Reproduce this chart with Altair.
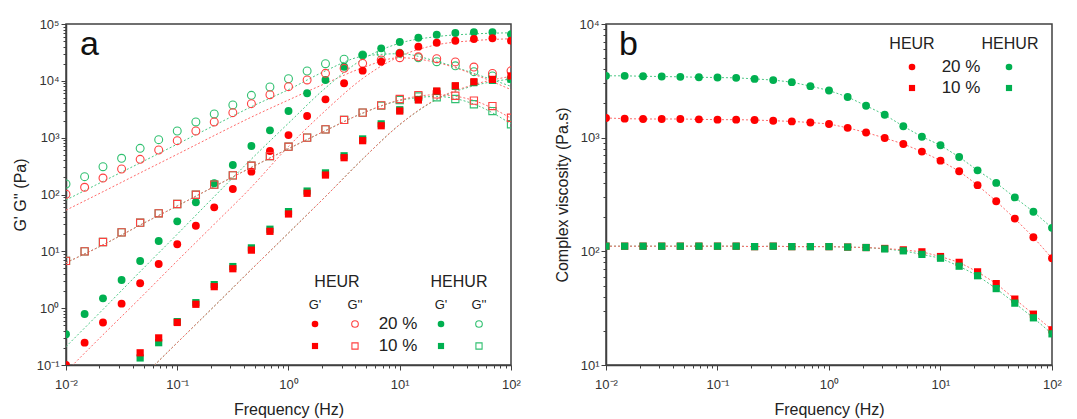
import altair as alt
import pandas as pd

# ---------------- data ----------------
freq = [0.01, 0.0147, 0.0215, 0.0316, 0.0464, 0.0681, 0.1, 0.147, 0.215, 0.316, 0.464, 0.681,
        1.0, 1.47, 2.15, 3.16, 4.64, 6.81, 10.0, 14.7, 21.5, 31.6, 46.4, 68.1, 100.0]

# panel a : moduli (Pa)
heur_g1_20 = [0.1, 0.247, 0.56, 1.2, 2.74, 5.98, 13.3, 28.2, 59.5, 125, 252, 582, 1110, 2400, 4730,
              9060, 15100, 21700, 30500, 39900, 46900, 50800, 54400, 56000, 50800]
hehur_g1_20 = [0.347, 0.79, 1.49, 3.13, 6.76, 15.2, 33.7, 73, 158, 330, 713, 1346, 2940, 6040, 10350,
               17700, 28500, 37300, 48200, 57400, 64800, 69500, 71500, 71500, 65900]
heur_g2_20 = [101, 134, 195, 281, 416, 607, 885, 1310, 1890, 2750, 3960, 5700, 7890, 10350, 13560,
              16600, 20300, 23300, 25500, 26500, 24500, 21500, 17500, 13500, 15000]
hehur_g2_20 = [153, 206, 308, 434, 650, 921, 1310, 1890, 2610, 3760, 5560, 7790, 10900, 14900, 20000,
               24000, 28500, 30500, 30500, 25500, 21700, 18400, 14500, 12200, 10800]
heur_g1_10 = [None, None, None, None, 0.164, 0.30, 0.56, 1.17, 2.39, 4.94, 10.5, 22.5, 45.4, 105, 220,
              444, 885, 1620, 2940, 4600, 6620, 8200, 9650, 10600, 12200]
hehur_g1_10 = [None, None, None, None, 0.133, 0.247, 0.58, 1.25, 2.6, 5.4, 11.5, 24.5, 50, 115, 240,
               480, 950, 1750, 3100, 4700, 6500, 8000, 9300, 10200, 10700]
heur_g2_10 = [6.8, 10, 14.6, 21.6, 31.9, 46.7, 68, 99, 149, 217, 321, 475, 694, 1000, 1400,
              2050, 2760, 3710, 4790, 5620, 5780, 5470, 4480, 3600, 2240]
hehur_g2_10 = [6.8, 10, 14.6, 21.6, 31.9, 46.7, 68, 99, 149, 217, 321, 475, 694, 1000, 1400,
               2050, 2760, 3650, 4600, 5300, 5130, 4790, 3870, 2940, 1720]

# model fit curves of panel a, read at these frequencies
fit_freq = [0.01, 0.0215, 0.0464, 0.1, 0.215, 0.464, 1.0, 2.15, 4.64, 10.0, 21.5, 46.4, 100.0]
fit_heur_g2_20 = [53, 112, 240, 510, 1090, 2300, 4600, 9000, 17000, 25500, 21000, 13000, 7000]
fit_hehur_g2_20 = [80, 170, 360, 770, 1640, 3500, 7000, 15000, 27000, 30000, 22000, 13500, 8000]
fit_heur_g1_20 = [0.076, 0.34, 1.5, 6.8, 30, 135, 700, 3000, 11000, 27000, 43000, 51000, 55000]
fit_hehur_g1_20 = [0.21, 0.95, 4.4, 20, 92, 420, 1800, 7500, 24000, 46000, 60000, 67000, 70000]
fit_heur_g1_10 = [None, None, 0.056, 0.247, 1.08, 4.8, 21, 92, 420, 1700, 4800, 8600, 12000]
fit_hehur_g1_10 = [None, None, 0.056, 0.247, 1.08, 4.8, 21, 92, 420, 1700, 4700, 8200, 10800]
fit_heur_g2_10 = [6.3, 13, 29, 63, 138, 300, 640, 1330, 2700, 4600, 5700, 4500, 2200]
fit_hehur_g2_10 = [6.3, 13, 29, 63, 138, 300, 640, 1330, 2700, 4500, 5300, 3900, 1750]

# panel b : complex viscosity (Pa.s)
eta_heur_20 = [1490, 1470, 1460, 1460, 1460, 1450, 1440, 1440, 1430, 1410, 1390, 1360, 1320, 1220,
               1110, 993, 880, 754, 628, 507, 382, 276, 194, 133, 87]
eta_hehur_20 = [3500, 3500, 3470, 3450, 3430, 3400, 3380, 3360, 3290, 3210, 3080, 2840, 2600, 2280,
                1910, 1590, 1260, 1020, 857, 676, 516, 400, 298, 223, 161]
eta_heur_10 = [111, 111, 111, 111, 111, 111, 111, 111, 110, 111, 110, 110, 110, 109, 108, 106, 103,
               99, 90, 80, 66, 52, 38, 28, 20.4]
eta_hehur_10 = [111, 111, 111, 111, 111, 111, 111, 111, 110, 111, 110, 110, 110, 109, 108, 105, 101,
                94, 87, 74, 61, 47, 35, 26, 18.8]

# ---------------- styling ----------------
RED, GREEN = "#ff0000", "#00b050"
RED_OPEN, GREEN_OPEN = "#ff4040", "#30c070"
RED_LINE, GREEN_LINE = "#ff6a6a", "#4cc885"
FONT = "Liberation Sans"
W, H = 445, 341
CIRC, SQ = 62, 52

MAJ_X = [0.01, 0.1, 1, 10, 100]
MIN_X = [m * d for d in [0.01, 0.1, 1, 10] for m in range(2, 10)]
LABEL_EXPR = "'10' + ['\u207b\u00b2','\u207b\u00b9','\u2070','\u00b9','\u00b2','\u00b3','\u2074','\u2075'][round(log(datum.value)/LN10) + 2]"


def frame(xs, ys):
    return pd.DataFrame({"f": xs, "v": ys}).dropna()


def points(xs, ys, shape, filled, color, xsc, ysc, xax, yax, size):
    kw = dict(shape=shape, filled=filled, size=size, clip=True, opacity=1)
    if filled:
        kw.update(color=color, strokeWidth=0)
    else:
        kw.update(stroke=color, strokeWidth=1.1, fill=None)
    return alt.Chart(frame(xs, ys)).mark_point(**kw).encode(
        x=alt.X("f:Q", scale=xsc, axis=xax),
        y=alt.Y("v:Q", scale=ysc, axis=yax),
    )


def fitline(xs, ys, color, xsc, ysc, xax, yax, interp="monotone"):
    return alt.Chart(frame(xs, ys)).mark_line(
        color=color, strokeWidth=1, strokeDash=[2, 2], clip=True, interpolate=interp
    ).encode(
        x=alt.X("f:Q", scale=xsc, axis=xax),
        y=alt.Y("v:Q", scale=ysc, axis=yax),
    )


one = pd.DataFrame({"a": [0]})


def label(text, x, y, size=16, align="center", baseline="middle", color="#222222"):
    return alt.Chart(one).mark_text(
        text=text, font=FONT, fontSize=size, align=align, baseline=baseline, color=color
    ).encode(x=alt.value(x), y=alt.value(y))


def sym(shape, filled, color, x, y, size=44):
    kw = dict(shape=shape, filled=filled, size=size, opacity=1)
    if filled:
        kw.update(color=color, strokeWidth=0)
    else:
        kw.update(stroke=color, strokeWidth=1.1, fill=None)
    return alt.Chart(one).mark_point(**kw).encode(x=alt.value(x), y=alt.value(y))


def axes(ydomain, ymaj, ymin, ytitle):
    xsc = alt.Scale(type="log", domain=[0.01, 100], nice=False)
    ysc = alt.Scale(type="log", domain=ydomain, nice=False)
    xax = alt.Axis(values=MAJ_X, labelExpr=LABEL_EXPR, tickSize=5, title="Frequency (Hz)",
                   titlePadding=10, labelPadding=8, labelFlush=False, labelOverlap=False,
                   orient="bottom", grid=False)
    yax = alt.Axis(values=ymaj, labelExpr=LABEL_EXPR, tickSize=5, title=ytitle,
                   titlePadding=8, labelPadding=2, labelFlush=False, labelOverlap=False,
                   orient="left", grid=False)
    xmin = alt.Axis(values=MIN_X, labels=False, tickSize=3, domain=False, title="",
                    orient="bottom", grid=False)
    ymin_ax = alt.Axis(values=ymin, labels=False, tickSize=3, domain=False, title="",
                       orient="left", grid=False)
    return xsc, ysc, xax, yax, xmin, ymin_ax


# ---------------- panel a ----------------
ymaj_a = [0.1, 1, 10, 100, 1000, 10000, 100000]
ymin_a = [m * d for d in [0.1, 1, 10, 100, 1000, 10000] for m in range(2, 10)]
xsc, ysc, xax, yax, xmin, yminax = axes([0.1, 100000], ymaj_a, ymin_a, "G' G'' (Pa)")

layers_a = []
for fx, col in [
    (fit_hehur_g2_20, GREEN_LINE), (fit_heur_g2_20, RED_LINE),
    (fit_hehur_g1_20, GREEN_LINE), (fit_heur_g1_20, RED_LINE),
    (fit_hehur_g2_10, GREEN_LINE), (fit_heur_g2_10, RED_LINE),
    (fit_hehur_g1_10, GREEN_LINE), (fit_heur_g1_10, RED_LINE),
]:
    layers_a.append(fitline(fit_freq, fx, col, xsc, ysc, xax, yax))

for vals, shape, filled, col in [
    (hehur_g2_20, "circle", False, GREEN_OPEN),
    (hehur_g1_20, "circle", True, GREEN),
    (hehur_g2_10, "square", False, GREEN_OPEN),
    (hehur_g1_10, "square", True, GREEN),
    (heur_g2_20, "circle", False, RED_OPEN),
    (heur_g1_20, "circle", True, RED),
    (heur_g2_10, "square", False, RED_OPEN),
    (heur_g1_10, "square", True, RED),
]:
    layers_a.append(points(freq, vals, shape, filled, col, xsc, ysc, xax, yax,
                           size=CIRC if shape == "circle" else SQ))

# panel letter and legend
layers_a += [
    label("a", 14, 31, size=34, align="left", baseline="alphabetic", color="#111111"),
    label("HEUR", 271, 258, size=16),
    label("HEHUR", 393, 258, size=16),
    label("G'", 249, 281, size=13),
    label("G''", 289, 281, size=13),
    label("G'", 375, 281, size=13),
    label("G''", 413, 281, size=13),
    sym("circle", True, RED, 249, 300),
    sym("circle", False, RED_OPEN, 289, 300),
    sym("circle", True, GREEN, 375, 300),
    sym("circle", False, GREEN_OPEN, 413, 300),
    sym("square", True, RED, 249, 322, size=38),
    sym("square", False, RED_OPEN, 289, 322, size=38),
    sym("square", True, GREEN, 375, 322, size=38),
    sym("square", False, GREEN_OPEN, 413, 322, size=38),
    label("20 %", 332, 300, size=17),
    label("10 %", 332, 322, size=17),
]

minor_a = alt.Chart(frame(freq, heur_g2_20)).mark_point(opacity=0).encode(
    x=alt.X("f:Q", scale=xsc, axis=xmin), y=alt.Y("v:Q", scale=ysc, axis=yminax)
)
panel_a = alt.layer(minor_a, alt.layer(*layers_a)).resolve_axis(
    x="independent", y="independent"
).properties(width=W, height=H)

# ---------------- panel b ----------------
ymaj_b = [10, 100, 1000, 10000]
ymin_b = [m * d for d in [10, 100, 1000] for m in range(2, 10)]
xsc, ysc, xax, yax, xmin, yminax = axes([10, 10000], ymaj_b, ymin_b, "Complex viscosity (Pa.s)")

layers_b = []
for vals, col in [(eta_hehur_20, GREEN_LINE), (eta_heur_20, RED_LINE),
                  (eta_hehur_10, GREEN_LINE), (eta_heur_10, RED_LINE)]:
    layers_b.append(fitline(freq, vals, col, xsc, ysc, xax, yax, interp="linear"))
for vals, shape, col in [(eta_hehur_20, "circle", GREEN), (eta_heur_20, "circle", RED),
                         (eta_heur_10, "square", RED), (eta_hehur_10, "square", GREEN)]:
    layers_b.append(points(freq, vals, shape, True, col, xsc, ysc, xax, yax,
                           size=CIRC if shape == "circle" else SQ))

layers_b += [
    label("b", 13, 31, size=34, align="left", baseline="alphabetic", color="#111111"),
    label("HEUR", 306, 20, size=16),
    label("HEHUR", 404, 20, size=16),
    sym("circle", True, RED, 306, 43),
    sym("circle", True, GREEN, 403, 43),
    sym("square", True, RED, 306, 64, size=38),
    sym("square", True, GREEN, 403, 64, size=38),
    label("20 %", 355, 43, size=17),
    label("10 %", 355, 64, size=17),
]

minor_b = alt.Chart(frame(freq, eta_heur_20)).mark_point(opacity=0).encode(
    x=alt.X("f:Q", scale=xsc, axis=xmin), y=alt.Y("v:Q", scale=ysc, axis=yminax)
)
panel_b = alt.layer(minor_b, alt.layer(*layers_b)).resolve_axis(
    x="independent", y="independent"
).properties(width=W + 1, height=H)

chart = alt.hconcat(panel_a, panel_b, spacing=32).properties(
    padding={"left": 3, "top": 9, "right": 4, "bottom": 4}
).configure_view(
    stroke="#404040", strokeWidth=1.5
).configure_axis(
    labelFont=FONT, labelFontSize=13, labelColor="#333333",
    titleFont=FONT, titleFontSize=16, titleFontWeight="normal", titleColor="#222222",
    domainColor="#404040", domainWidth=1.5, tickColor="#404040", tickWidth=1,
)

chart.save("out.html", embed_options={"renderer": "svg", "actions": False})
